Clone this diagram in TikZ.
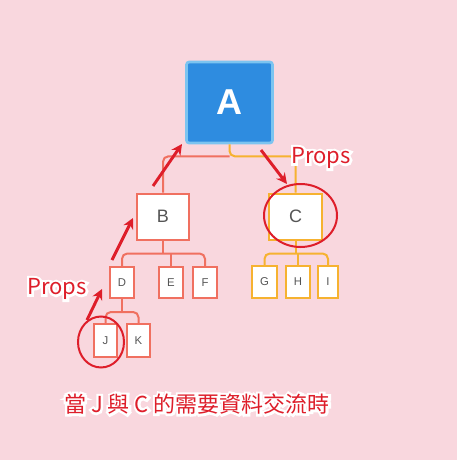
\documentclass[tikz,border=0pt]{standalone}
\usepackage{fontspec}
\setmainfont{Liberation Sans}
\newfontfamily\cjk{Noto Sans CJK TC}
\newfontfamily\cjkrim[FakeBold=22]{Noto Sans CJK TC}
\usetikzlibrary{arrows.meta}

\definecolor{bgpink}{RGB}{249,215,222}
\definecolor{salmon}{RGB}{240,112,96}
\definecolor{amber}{RGB}{246,178,48}
\definecolor{rootblue}{RGB}{46,140,224}
\definecolor{rootrim}{RGB}{124,196,240}
\definecolor{markred}{RGB}{222,30,42}
\definecolor{lettergray}{RGB}{85,85,85}

% red text with a white rim
\newcommand{\haloed}[1]{\rlap{\color{white}\cjkrim #1}#1}

\tikzset{
  box/.style={draw, fill=white, inner sep=0pt, line width=1.5, text=lettergray},
  bigbox/.style={box, minimum width=52*0.75pt, minimum height=46*0.75pt, font=\fontsize{13.5}{14}\selectfont},
  leaf/.style={box, minimum width=24*0.75pt, minimum height=31*0.75pt, font=\fontsize{8.5}{9}\selectfont},
  link/.style={line width=1.5, rounded corners=4},
  ring/.style={draw=markred, line width=1.5},
  push/.style={markred, line width=2.2, -{Stealth[length=8,width=8]}},
  note/.style={text=markred, inner sep=0pt, font=\cjk\fontsize{16.5}{17}\selectfont},
}

\begin{document}
\begin{tikzpicture}[x=0.75pt,y=0.75pt,yscale=-1,xscale=1]
\fill[bgpink] (0,0) rectangle (457,460);
\useasboundingbox (0,0) rectangle (457,460);

% Root
\node [draw=rootrim, fill=rootblue, line width=2, rounded corners=2, minimum width=86*0.75pt, minimum height=81*0.75pt, inner sep=0pt, text=white, font=\bfseries\fontsize{27}{28}\selectfont] (A) at (229.5,102.5) {A};

% Second level
\node [bigbox, draw=salmon] (B) at (163,216.5) {B};
\node [bigbox, draw=amber, minimum width=53*0.75pt] (C) at (295.5,216.5) {C};

% Leaves under B
\node [leaf, draw=salmon] (D) at (122,282.5) {D};
\node [leaf, draw=salmon] (E) at (171,282.5) {E};
\node [leaf, draw=salmon] (F) at (205,282.5) {F};
\node [leaf, draw=salmon, minimum width=23*0.75pt, minimum height=33*0.75pt] (J) at (105.5,340.5) {J};
\node [leaf, draw=salmon, minimum width=23*0.75pt, minimum height=33*0.75pt] (K) at (138.5,340.5) {K};

% Leaves under C
\node [leaf, draw=amber, minimum width=25*0.75pt, minimum height=32*0.75pt] (G) at (264.5,282) {G};
\node [leaf, draw=amber, minimum height=32*0.75pt] (H) at (298,282) {H};
\node [leaf, draw=amber, minimum width=20*0.75pt, minimum height=32*0.75pt] (I) at (328,282) {I};

% Tree lines
\path (A.south) ++(0,12) coordinate (Abar);
\path (B.south) ++(0,13) coordinate (Bbar);
\path (C.south) ++(0,13) coordinate (Cbar);
\path (D.south) ++(0,13) coordinate (Dbar);
\draw [link, salmon] (B.north) |- (Abar);
\draw [link, amber] (C.north) |- (Abar) -- (A.south);
\draw [link, salmon] (B.south) -- (Bbar);
\draw [link, salmon] (D.north) |- (Bbar) -| (F.north);
\draw [link, salmon] (E.north) -- (E.north |- Bbar);
\draw [link, salmon] (D.south) -- (Dbar);
\draw [link, salmon] (J.north) |- (Dbar) -| (K.north);
\draw [link, amber] (C.south) -- (Cbar);
\draw [link, amber] (G.north) |- (Cbar) -| (I.north);
\draw [link, amber] (H.north) -- (H.north |- Cbar);

% Rings
\draw [ring] (300.5,215.5) ellipse [x radius=36.5, y radius=31.5];
\draw [ring] (101,342) ellipse [x radius=23, y radius=25.5];

% Arrows
\coordinate (up1) at (153,186);   \coordinate (up1e) at (182,144);
\coordinate (down1) at (261,150); \coordinate (down1e) at (287,184);
\coordinate (up2) at (112,260);   \coordinate (up2e) at (133,218);
\coordinate (up3) at (87,320);    \coordinate (up3e) at (102,289);
\draw [push] (up1) -- (up1e);
\draw [push] (down1) -- (down1e);
\draw [push] (up2) -- (up2e);
\draw [push] (up3) -- (up3e);

% Text Node
\node [note] (props1) at (321,158) {\haloed{Props}};
% Text Node
\node [note] (props2) at (57,289) {\haloed{Props}};
% Text Node
\node [note] (caption) at (197,404) {\haloed{當 J 與 C 的需要資料交流時}};
\end{tikzpicture}
\end{document}
